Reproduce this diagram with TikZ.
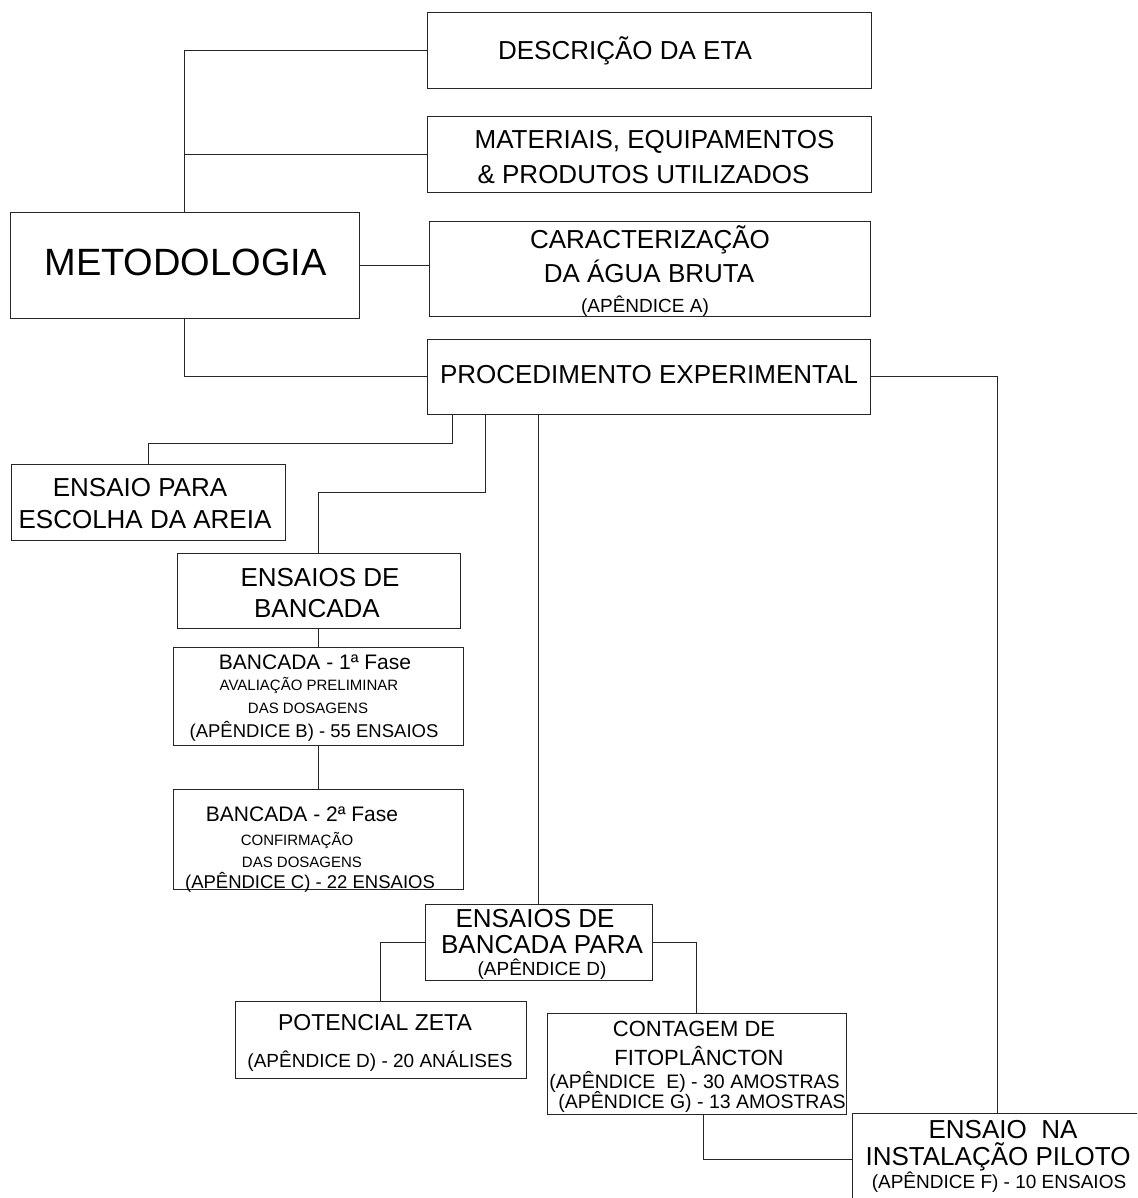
\documentclass[tikz,border=0pt]{standalone}
\usepackage{fontspec}
\setmainfont{Liberation Sans}
\newcommand\fsz[1]{\fontsize{#1}{#1}\selectfont}
\tikzset{
  box/.style={draw=black!85, line width=1pt, rectangle, inner sep=0pt, outer sep=0pt},
  txt/.style={anchor=base, inner sep=0pt, outer sep=0pt, text=black},
  link/.style={draw=black!85, line width=1pt},
}
% box: name, left, top, right, bottom
\newcommand\mkbox[5]{\node[box, minimum width={(#4)-(#2)}, minimum height={(#5)-(#3)}] (#1) at ({((#2)+(#4))/2},{((#3)+(#5))/2}) {};}
% text line: name, x, baseline y, size, text
\newcommand\tline[5]{\node[txt, font=\fsz{#4}] (#1) at (#2,#3) {#5};}
\begin{document}
\begin{tikzpicture}[x=1pt,y=-1pt]
\path[use as bounding box] (0,0) rectangle (1137,1198);
\fill[white] (0,0) rectangle (1137,1198);
\clip (0,0) rectangle (1137,1198);

% boxes
\mkbox{bDesc}{427}{13}{871}{89}
\mkbox{bMat}{427}{117}{871}{193}
\mkbox{bCar}{429}{222}{870}{316}
\mkbox{bProc}{427}{339}{870}{414}
\mkbox{bMet}{10}{213}{359}{318}
\mkbox{bAre}{11}{464}{285}{540}
\mkbox{bBan}{177}{553}{460}{628}
\mkbox{bFa}{173}{647}{463}{745}
\mkbox{bFb}{173}{789}{463}{889}
\mkbox{bPara}{425}{904}{652}{980}
\mkbox{bZeta}{235}{1001}{526}{1078}
\mkbox{bCont}{547}{1013}{846}{1114}
\mkbox{bPil}{852}{1113}{1142}{1205}

% texts
\tline{tDesc}{625}{60}{26}{DESCRIÇÃO DA ETA}
\tline{tMat1}{654.5}{149}{26}{MATERIAIS, EQUIPAMENTOS}
\tline{tMat2}{643.5}{184}{26}{\& PRODUTOS UTILIZADOS}
\tline{tCar1}{650}{248}{26}{CARACTERIZAÇÃO}
\tline{tCar2}{649}{282}{26}{DA ÁGUA BRUTA}
\tline{tCar3}{645}{312}{19}{(APÊNDICE A)}
\tline{tProc}{649}{383}{26}{PROCEDIMENTO EXPERIMENTAL}
\tline{tMet}{185.5}{275}{38}{METODOLOGIA}
\tline{tAre1}{140}{496}{26}{ENSAIO PARA}
\tline{tAre2}{145}{528}{26}{ESCOLHA DA AREIA}
\tline{tBan1}{320}{586}{26}{ENSAIOS DE}
\tline{tBan2}{317}{617}{26}{BANCADA}
\tline{tFa1}{315}{669}{21}{BANCADA - 1ª Fase}
\tline{tFa2}{309}{690}{15}{AVALIAÇÃO PRELIMINAR}
\tline{tFa3}{308}{713}{15}{DAS DOSAGENS}
\tline{tFa4}{314}{737}{18.5}{(APÊNDICE B) - 55 ENSAIOS}
\tline{tFb1}{302}{821}{21}{BANCADA - 2ª Fase}
\tline{tFb2}{297}{845}{15}{CONFIRMAÇÃO}
\tline{tFb3}{302}{867}{15}{DAS DOSAGENS}
\tline{tFb4}{310}{888}{18.5}{(APÊNDICE C) - 22 ENSAIOS}
\tline{tPara1}{535}{927}{26}{ENSAIOS DE}
\tline{tPara2}{542}{953}{26}{BANCADA PARA}
\tline{tPara3}{542}{975}{19}{(APÊNDICE D)}
\tline{tZeta1}{375}{1030}{23}{POTENCIAL ZETA}
\tline{tZeta2}{380}{1067}{19}{(APÊNDICE D) - 20 ANÁLISES}
\tline{tCont1}{694}{1036}{22}{CONTAGEM DE}
\tline{tCont2}{699}{1065}{22}{FITOPLÂNCTON}
\tline{tCont3}{694.5}{1088}{19.5}{(APÊNDICE\ \ E) - 30 AMOSTRAS}
\tline{tCont4}{702}{1108}{19.5}{(APÊNDICE G) - 13 AMOSTRAS}
\tline{tPil1}{1003}{1138}{26}{ENSAIO\ \ NA}
\tline{tPil2}{998}{1165}{26}{INSTALAÇÃO PILOTO}
\tline{tPil3}{999}{1188}{19}{(APÊNDICE F) - 10 ENSAIOS}

% connectors
\draw[link] (bMet.north) |- (bDesc.west);
\draw[link] (bMet.north) |- (bMat.west);
\draw[link] (bMet.east) -- (bMet.east -| bCar.west);
\draw[link] (bMet.south) |- (bProc.west);
\draw[link] ([xshift=25pt]bProc.south west) -- ++(0,29) -| (bAre.north);
\draw[link] ([xshift=58pt]bProc.south west) -- ++(0,78) -| (bBan.north);
\draw[link] (bFa.north) -- (bFa.north |- bBan.south);
\draw[link] (bFa.south) -- (bFb.north);
\draw[link] (bPara.north) -- (bPara.north |- bProc.south);
\draw[link] (bPara.west) -| (bZeta.north);
\draw[link] (bPara.east) -| (bCont.north);
\draw[link] ([xshift=6.5pt]bCont.south) |- (bPil.west);
\draw[link] (bProc.east) -| (bPil.north);
\end{tikzpicture}
\end{document}
